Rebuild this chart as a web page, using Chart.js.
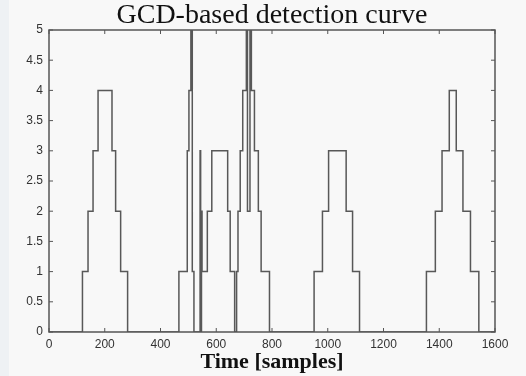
<!DOCTYPE html>
<html>
<head>
<meta charset="utf-8">
<script src="https://cdn.jsdelivr.net/npm/chart.js@4.4.1/dist/chart.umd.min.js"></script>
<style>
    html, body { margin: 0; padding: 0; background: #f8f8f8; }
    body { width: 526px; height: 376px; overflow: hidden;
           background: linear-gradient(to right, #eef1f4 0, #eef1f4 9px, #f8f8f8 9px); }
    #wrap { position: relative; width: 526px; height: 376px; }
</style>
</head>
<body>
<div id="wrap"><canvas id="gcdChart"></canvas></div>
<script>
// 검출 곡선 데이터 (시간 → 새 레벨)
const times  = [0, 120, 140, 158, 176, 226, 239, 257, 282,
                466, 496, 502, 509, 514, 520, 542, 544, 547, 549, 568, 584, 641, 650, 666,
                673, 678, 686, 695, 708, 712, 721, 726, 737, 751, 761, 791,
                951, 981, 1003, 1066, 1089, 1114,
                1354, 1386, 1410, 1436, 1461, 1485, 1512, 1542, 1600];
const levels = [0, 1, 2, 3, 4, 3, 2, 1, 0,
                1, 3, 4, 5, 1, 0, 3, 0, 2, 1, 2, 3, 2, 1, 0,
                1, 2, 3, 4, 5, 2, 5, 4, 3, 2, 1, 0,
                1, 2, 3, 2, 1, 0,
                1, 2, 3, 4, 3, 2, 1, 0, 0];

const xTicks = [0, 200, 400, 600, 800, 1000, 1200, 1400, 1600];
const yTicks = [0, 0.5, 1, 1.5, 2, 2.5, 3, 3.5, 4, 4.5, 5];

const points = times.map((t, i) => ({ x: t, y: levels[i] }));

// 상자 테두리 + 안쪽 눈금 (MATLAB 스타일)
const boxPlugin = {
    id: 'boxPlugin',
    afterDatasetsDraw(chart) {
        const { ctx, chartArea: a, scales: { x, y } } = chart;
        ctx.save();
        ctx.strokeStyle = '#555';
        ctx.lineWidth = 1.5;
        ctx.strokeRect(a.left, a.top, a.right - a.left, a.bottom - a.top);
        ctx.lineWidth = 1;
        ctx.beginPath();
        xTicks.forEach(v => {
            const px = x.getPixelForValue(v);
            ctx.moveTo(px, a.bottom); ctx.lineTo(px, a.bottom - 4);
            ctx.moveTo(px, a.top); ctx.lineTo(px, a.top + 4);
        });
        yTicks.forEach(v => {
            const py = y.getPixelForValue(v);
            ctx.moveTo(a.left, py); ctx.lineTo(a.left + 4, py);
            ctx.moveTo(a.right, py); ctx.lineTo(a.right - 4, py);
        });
        ctx.stroke();
        ctx.restore();
    }
};

const canvas = document.getElementById('gcdChart');
new Chart(canvas, {
    type: 'line',
    data: {
        datasets: [{
            data: points,
            stepped: true,
            borderColor: 'rgba(70, 70, 70, 0.9)',
            borderWidth: 1.5,
            pointRadius: 0,
            fill: false
        }]
    },
    options: {
        responsive: true,
        maintainAspectRatio: false,
        animation: false,
        layout: { padding: { left: 0, right: 31, top: 0, bottom: 0 } },
        plugins: {
            legend: { display: false },
            tooltip: { enabled: false },
            title: {
                display: true,
                fullSize: false,
                text: 'GCD-based detection curve',
                color: '#111',
                font: { family: 'Liberation Serif', size: 28, weight: 'normal', lineHeight: 1 },
                padding: { top: 2, bottom: 0 }
            }
        },
        scales: {
            x: {
                type: 'linear',
                min: 0,
                max: 1600,
                grid: { display: false, drawTicks: false, tickLength: 0 },
                border: { display: false },
                afterBuildTicks: s => { s.ticks = xTicks.map(v => ({ value: v })); },
                afterFit: s => { s.height = 44; },
                ticks: {
                    color: '#333',
                    padding: 5,
                    maxRotation: 0,
                    font: { family: 'Liberation Sans', size: 12 },
                    callback: v => String(v)
                },
                title: {
                    display: true,
                    text: 'Time [samples]',
                    color: '#111',
                    font: { family: 'Liberation Serif', size: 22, weight: 'bold', lineHeight: 1 },
                    padding: { top: 0, bottom: 3 }
                }
            },
            y: {
                min: 0,
                max: 5,
                grid: { display: false, drawTicks: false, tickLength: 0 },
                border: { display: false },
                afterBuildTicks: s => { s.ticks = yTicks.map(v => ({ value: v })); },
                afterFit: s => { s.width = 49; },
                ticks: {
                    color: '#333',
                    padding: 6,
                    font: { family: 'Liberation Sans', size: 12 },
                    callback: v => String(v)
                }
            }
        }
    },
    plugins: [boxPlugin]
});
</script>
</body>
</html>
